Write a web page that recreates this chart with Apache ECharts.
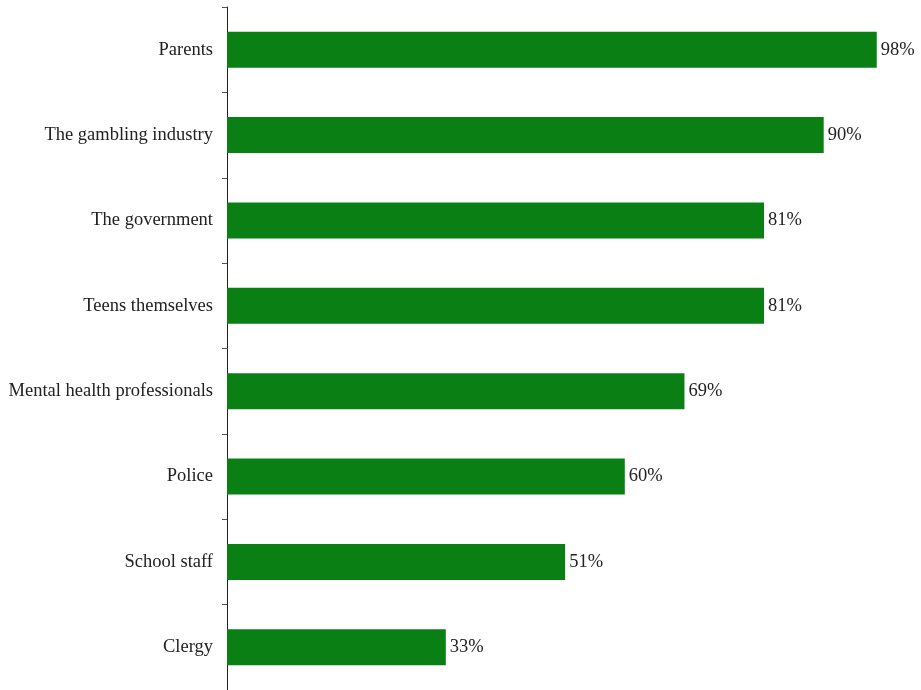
<!DOCTYPE html>
<html>
<head>
<meta charset="utf-8">
<script src="https://cdn.jsdelivr.net/npm/echarts@6/dist/echarts.min.js"></script>
<style>
  html, body { margin: 0; padding: 0; background: #ffffff; }
  #chart { width: 921px; height: 690px; }
</style>
</head>
<body>
<div id="chart"></div>
<script>
// Who is responsible for preventing teen gambling (share of respondents)
const categories = [
  'Clergy',
  'School staff',
  'Police',
  'Mental health professionals',
  'Teens themselves',
  'The government',
  'The gambling industry',
  'Parents'
];
const values = [33, 51, 60, 69, 81, 81, 90, 98];

const chart = echarts.init(document.getElementById('chart'), null, { renderer: 'canvas' });
const font = '"Liberation Serif", "DejaVu Serif", serif';

chart.setOption({
  animation: false,
  backgroundColor: '#ffffff',
  grid: { left: 227, right: 31, top: 7, bottom: -1, containLabel: false },
  xAxis: {
    type: 'value',
    min: 0,
    max: 100,
    show: false
  },
  yAxis: {
    type: 'category',
    data: categories,
    axisLine: { show: true, lineStyle: { color: '#222222', width: 1 } },
    axisTick: { show: true, length: 5, lineStyle: { color: '#555555' } },
    axisLabel: {
      color: '#222222',
      fontFamily: font,
      fontSize: 18.5,
      margin: 14
    },
    splitLine: { show: false }
  },
  series: [{
    type: 'bar',
    data: values,
    barWidth: 36,
    itemStyle: { color: '#0a7f14' },
    label: {
      show: true,
      position: 'right',
      distance: 4,
      formatter: '{c}%',
      color: '#222222',
      fontFamily: font,
      fontSize: 18.5
    }
  }]
});
</script>
</body>
</html>
